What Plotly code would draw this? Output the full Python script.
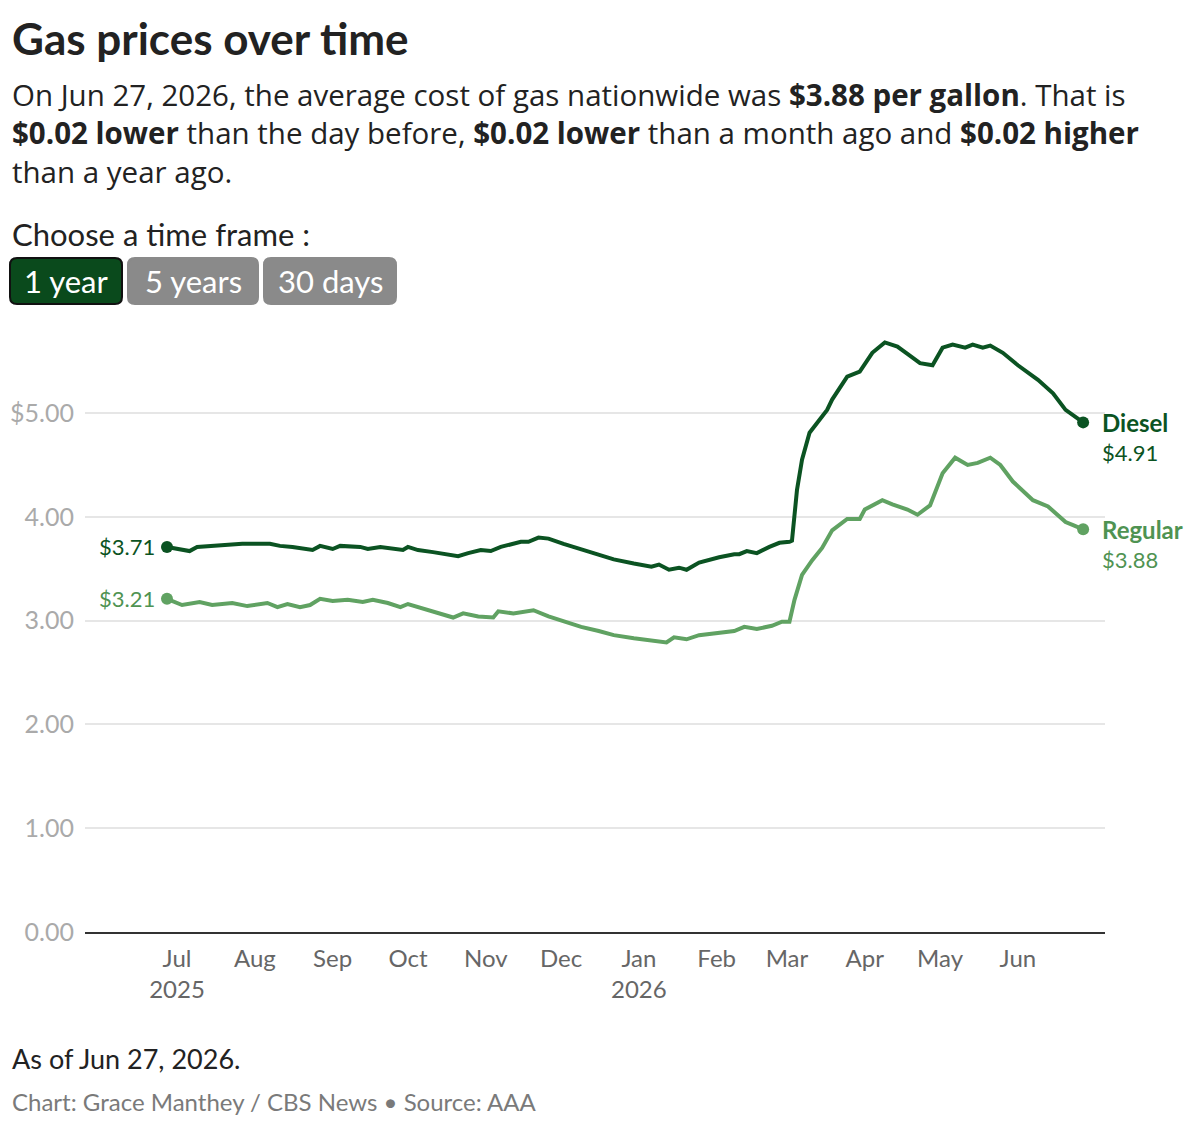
import plotly.graph_objects as go

# Daily-ish AAA national averages
diesel_dates = [
    "2025-06-27", "2025-07-06", "2025-07-09", "2025-07-14", "2025-07-21", "2025-07-27",
    "2025-08-03", "2025-08-07", "2025-08-11", "2025-08-16", "2025-08-24", "2025-08-27",
    "2025-09-01", "2025-09-04", "2025-09-12", "2025-09-15", "2025-09-20", "2025-09-25",
    "2025-09-29", "2025-10-01", "2025-10-05", "2025-10-11", "2025-10-17", "2025-10-21",
    "2025-10-25", "2025-10-30", "2025-11-03", "2025-11-07", "2025-11-15", "2025-11-18",
    "2025-11-22", "2025-11-26", "2025-12-02", "2025-12-09", "2025-12-16", "2025-12-22",
    "2025-12-30", "2026-01-06", "2026-01-09", "2026-01-13", "2026-01-17", "2026-01-20",
    "2026-01-25", "2026-01-31", "2026-02-02", "2026-02-08", "2026-02-10", "2026-02-13",
    "2026-02-17", "2026-02-22", "2026-02-26", "2026-03-02", "2026-03-03", "2026-03-05",
    "2026-03-07", "2026-03-10", "2026-03-13", "2026-03-17", "2026-03-19", "2026-03-25",
    "2026-03-30", "2026-04-04", "2026-04-09", "2026-04-14", "2026-04-18", "2026-04-23",
    "2026-04-28", "2026-04-30", "2026-05-02", "2026-05-06", "2026-05-11", "2026-05-14",
    "2026-05-18", "2026-05-21", "2026-05-26", "2026-06-01", "2026-06-09", "2026-06-15",
    "2026-06-20", "2026-06-27",
]
diesel_price = [
    3.71, 3.67, 3.71, 3.72, 3.73, 3.74,
    3.74, 3.74, 3.72, 3.71, 3.68, 3.72,
    3.69, 3.72, 3.71, 3.69, 3.71, 3.69,
    3.68, 3.71, 3.68, 3.66, 3.64, 3.62,
    3.65, 3.68, 3.67, 3.71, 3.76, 3.76,
    3.80, 3.79, 3.74, 3.69, 3.63, 3.59,
    3.55, 3.52, 3.54, 3.49, 3.51, 3.49,
    3.56, 3.60, 3.61, 3.64, 3.64, 3.67,
    3.65, 3.71, 3.75, 3.76, 3.77, 4.26,
    4.55, 4.81, 4.90, 5.03, 5.13, 5.35,
    5.40, 5.58, 5.68, 5.64, 5.57, 5.48,
    5.46, 5.54, 5.63, 5.66, 5.63, 5.66,
    5.63, 5.65, 5.58, 5.46, 5.32, 5.19,
    5.03, 4.91,
]

regular_dates = [
    "2025-06-27", "2025-07-03", "2025-07-10", "2025-07-15", "2025-07-23", "2025-07-29",
    "2025-08-06", "2025-08-10", "2025-08-14", "2025-08-19", "2025-08-23", "2025-08-27",
    "2025-09-01", "2025-09-07", "2025-09-13", "2025-09-17", "2025-09-23", "2025-09-28",
    "2025-10-01", "2025-10-07", "2025-10-14", "2025-10-19", "2025-10-23", "2025-10-29",
    "2025-11-04", "2025-11-06", "2025-11-12", "2025-11-20", "2025-11-26", "2025-12-02",
    "2025-12-09", "2025-12-16", "2025-12-22", "2025-12-30", "2026-01-06", "2026-01-12",
    "2026-01-15", "2026-01-20", "2026-01-25", "2026-01-31", "2026-02-08", "2026-02-12",
    "2026-02-17", "2026-02-23", "2026-02-27", "2026-03-02", "2026-03-04", "2026-03-07",
    "2026-03-11", "2026-03-15", "2026-03-19", "2026-03-25", "2026-03-30", "2026-04-01",
    "2026-04-08", "2026-04-12", "2026-04-18", "2026-04-22", "2026-04-27", "2026-05-02",
    "2026-05-07", "2026-05-12", "2026-05-16", "2026-05-21", "2026-05-25", "2026-05-30",
    "2026-06-07", "2026-06-13", "2026-06-20", "2026-06-23", "2026-06-27",
]
regular_price = [
    3.21, 3.15, 3.18, 3.15, 3.17, 3.14,
    3.17, 3.13, 3.16, 3.13, 3.15, 3.21,
    3.19, 3.20, 3.18, 3.20, 3.17, 3.13,
    3.16, 3.12, 3.07, 3.03, 3.07, 3.04,
    3.03, 3.09, 3.07, 3.10, 3.04, 2.99,
    2.94, 2.90, 2.86, 2.83, 2.81, 2.79,
    2.84, 2.82, 2.86, 2.88, 2.90, 2.94,
    2.92, 2.95, 2.99, 2.99, 3.20, 3.44,
    3.58, 3.70, 3.87, 3.98, 3.98, 4.07,
    4.16, 4.12, 4.07, 4.02, 4.11, 4.42,
    4.57, 4.50, 4.52, 4.57, 4.50, 4.34,
    4.16, 4.10, 3.95, 3.92, 3.88,
]

month_ticks = ["2025-07-01", "2025-08-01", "2025-09-01", "2025-10-01", "2025-11-01",
               "2025-12-01", "2026-01-01", "2026-02-01", "2026-03-01", "2026-04-01",
               "2026-05-01", "2026-06-01"]
month_labels = ["Jul<br>2025", "Aug", "Sep", "Oct", "Nov", "Dec", "Jan<br>2026",
                "Feb", "Mar", "Apr", "May", "Jun"]
y_ticks = [0, 1, 2, 3, 4, 5]
y_labels = ["0.00", "1.00", "2.00", "3.00", "4.00", "$5.00"]

DIESEL = "#0b5322"
REGULAR = "#60a262"
FONT = "Lato"

# page has an 8px body margin, so the figure is drawn 8px in from the window edge
OFF = 8
W, H = 1200 - 2 * OFF, 1127 - 2 * OFF
L, R, T, B = 85 - OFF, W - (1105 - OFF), 330 - OFF, H - (932 - OFF)
PW, PH = W - L - R, H - T - B


def px(x):
    return (x - OFF - L) / PW


def py(y):
    return (H - B - (y - OFF)) / PH


fig = go.Figure()
fig.add_trace(go.Scatter(x=regular_dates, y=regular_price, mode="lines",
                         line=dict(color=REGULAR, width=4), name="Regular"))
fig.add_trace(go.Scatter(x=diesel_dates, y=diesel_price, mode="lines",
                         line=dict(color=DIESEL, width=4), name="Diesel"))
# end points
for d, p, c in [(regular_dates, regular_price, REGULAR), (diesel_dates, diesel_price, DIESEL)]:
    fig.add_trace(go.Scatter(x=[d[0], d[-1]], y=[p[0], p[-1]], mode="markers",
                             marker=dict(color=c, size=12), cliponaxis=False))

annotations = []
# start / end labels
for name, d, p, lc in [("Diesel", diesel_dates, diesel_price, DIESEL),
                       ("Regular", regular_dates, regular_price, "#4f9352")]:
    annotations.append(dict(x=d[0], y=p[0], xref="x", yref="y", text=f"${p[0]:.2f}",
                            showarrow=False, xanchor="right", xshift=-10,
                            font=dict(size=22, color=lc, family=FONT)))
    annotations.append(dict(x=d[-1], y=p[-1], xref="x", yref="y",
                            text=f"<span style='font-size:24px'><b>{name}</b></span><br>${p[-1]:.2f}",
                            align="left", showarrow=False, xanchor="left", yanchor="top",
                            xshift=17, yshift=16, font=dict(size=22, color=lc, family=FONT)))

# header text
annotations.append(dict(x=px(10), y=py(38), xref="paper", yref="paper", xanchor="left",
                        yanchor="middle", showarrow=False, text="<b>Gas prices over time</b>",
                        font=dict(size=44, color="#222222", family=FONT)))
subtitle = ("On Jun 27, 2026, the average cost of gas nationwide was <b>$3.88 per gallon</b>. That is<br>"
            "<b>$0.02 lower</b> than the day before, <b>$0.02 lower</b> than a month ago and <b>$0.02 higher</b><br>"
            "than a year ago.")
annotations.append(dict(x=px(10), y=py(133), xref="paper", yref="paper", xanchor="left",
                        yanchor="middle", align="left", showarrow=False, text=subtitle,
                        font=dict(size=29.5, color="#222222", family="Open Sans")))
annotations.append(dict(x=px(10), y=py(234), xref="paper", yref="paper", xanchor="left",
                        yanchor="middle", showarrow=False, text="Choose a time frame :",
                        font=dict(size=31, color="#222222", family=FONT)))

# time frame buttons
shapes = []
buttons = [("1 year", 10, 122, "#0a4a1c", "#111111"),
           ("5 years", 128, 258, "#8a8a8a", "#8a8a8a"),
           ("30 days", 264, 396, "#8a8a8a", "#8a8a8a")]
y0, y1, r = 258, 304, 7
for label, x0, x1, fill, border in buttons:
    path = (f"M {px(x0 + r)} {py(y0)} L {px(x1 - r)} {py(y0)} Q {px(x1)} {py(y0)} {px(x1)} {py(y0 + r)} "
            f"L {px(x1)} {py(y1 - r)} Q {px(x1)} {py(y1)} {px(x1 - r)} {py(y1)} "
            f"L {px(x0 + r)} {py(y1)} Q {px(x0)} {py(y1)} {px(x0)} {py(y1 - r)} "
            f"L {px(x0)} {py(y0 + r)} Q {px(x0)} {py(y0)} {px(x0 + r)} {py(y0)} Z")
    shapes.append(dict(type="path", xref="paper", yref="paper", path=path,
                       fillcolor=fill, line=dict(color=border, width=2)))
    annotations.append(dict(x=px((x0 + x1) / 2), y=py((y0 + y1) / 2), xref="paper", yref="paper",
                            xanchor="center", yanchor="middle", showarrow=False, text=label,
                            font=dict(size=31, color="white", family=FONT)))

# footer
annotations.append(dict(x=px(10), y=py(1058), xref="paper", yref="paper", xanchor="left",
                        yanchor="middle", showarrow=False, text="As of Jun 27, 2026.",
                        font=dict(size=27, color="#222222", family=FONT)))
annotations.append(dict(x=px(10), y=py(1101), xref="paper", yref="paper", xanchor="left",
                        yanchor="middle", showarrow=False,
                        text="Chart: Grace Manthey / CBS News • Source: AAA",
                        font=dict(size=24, color="#7a7a7a", family=FONT)))

fig.update_layout(
    width=W, height=H,
    margin=dict(l=L, r=R, t=T, b=B),
    plot_bgcolor="white", paper_bgcolor="white",
    showlegend=False,
    font=dict(family=FONT),
    annotations=annotations,
    shapes=shapes,
    xaxis=dict(range=["2025-05-25 08:00", "2026-07-05 17:00"], tickvals=month_ticks,
               ticktext=month_labels, showgrid=False, showline=True, linecolor="#333333",
               linewidth=2, ticks="", tickfont=dict(size=24, color="#666666", family=FONT),
               ticklabelstandoff=4, automargin=False),
    yaxis=dict(range=[0, 5.8], tickvals=y_ticks, ticktext=y_labels, showgrid=True,
               gridcolor="#e6e6e6", gridwidth=1.5, zeroline=False, showline=False, ticks="",
               tickfont=dict(size=25, color="#aaaaaa", family=FONT), ticklabelstandoff=10,
               automargin=False),
)

fig.write_html("out.html")
